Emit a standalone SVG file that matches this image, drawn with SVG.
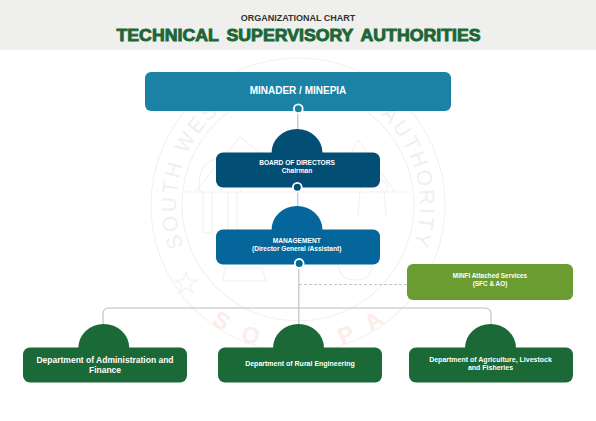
<svg xmlns="http://www.w3.org/2000/svg" width="596" height="421" viewBox="0 0 596 421">
<style>
text{font-family:"Liberation Sans",Arial,sans-serif;font-weight:700;text-anchor:middle;fill:#fff}
.sm{font-size:6.6px}
.ag{font-size:7px}
.dep{font-size:8.500px}
.ln{fill:none;stroke:#bcbcbc;stroke-width:1.1}
.wm{fill:none;stroke:#f3f1ee;stroke-width:1.1}
.wt{fill:#f1efec;font-size:21px;font-weight:400;letter-spacing:2.5px}
.wr{fill:#fcecea;font-size:23px;letter-spacing:18px}
.dot{stroke:#fff;stroke-width:1.8}
</style>
<defs>
<path id="arcT" d="M183.400 246.700A122 122 0 1 1 412.600 246.700"/>
<path id="arcB" d="M152 205A146 146 0 0 0 444 205"/>
</defs>
<rect width="596" height="421" fill="#fff"/>
<g id="watermark">
<circle class="wm" cx="298" cy="205" r="147"/>
<circle class="wm" cx="298" cy="205" r="116"/>
<text class="wt"><textPath href="#arcT" startOffset="0" style="text-anchor:start">SOUTH WEST</textPath></text>
<text class="wt"><textPath href="#arcT" startOffset="100%" style="text-anchor:end">T AUTHORITY</textPath></text>
<text class="wr"><textPath href="#arcB" startOffset="52%">SODEPA</textPath></text>
<path class="wm" d="M183 192H412M195 192L240 137L275 165M345 165L358 140L395 192"/>
<path class="wm" d="M200 192Q195 160 222 158Q250 165 240 192M203 192V233H212V192M228 192V233H237V192M360 192Q360 175 378 178Q392 185 385 192M360 192L358 215M384 192L386 215"/>
<path class="wm" d="M225 268H262L266 281H223ZM340 248Q365 250 372 268Q368 285 345 278Q332 265 340 248Z"/>
<path class="wm" d="M186 272L189 280H197L190 285L193 293L186 288L179 293L182 285L175 280H183Z"/>
</g>
<g id="header">
<rect width="596" height="50" fill="#eff0ed"/>
<text x="298" y="21" font-size="9" style="fill:#333">ORGANIZATIONAL CHART</text>
<text x="298.500" y="40.500" font-size="17" textLength="364" lengthAdjust="spacingAndGlyphs" word-spacing="3" stroke="#1d6636" stroke-width=".9" style="fill:#1d6636">TECHNICAL SUPERVISORY AUTHORITIES</text>
</g>
<g id="connectors">
<path class="ln" d="M297.800 112V230M298.800 264V325"/>
<path class="ln" d="M103 325V314Q103 308 109 308H485Q491 308 491 314V325"/>
<path d="M299 284.500H407" fill="none" stroke="#b5b5b5" stroke-width=".8" stroke-dasharray="3 2"/>
</g>
<g id="minader">
<rect x="145" y="72" width="306" height="39" rx="6" fill="#1b82a6"/>
<text x="298" y="94" font-size="10">MINADER / MINEPIA</text>
<circle class="dot" cx="298.300" cy="108.700" r="4.400" fill="#1b82a6"/>
</g>
<g id="board">
<path d="M271.500 153A25.500 24 0 0 1 322.500 153Z" fill="#024e75"/>
<rect x="216" y="152.500" width="164" height="35" rx="7" fill="#024e75"/>
<text class="sm" x="297" y="165">BOARD OF DIRECTORS</text>
<text class="sm" x="297" y="173">Chairman</text>
<circle class="dot" cx="297.300" cy="187.200" r="4.400" fill="#024e75"/>
</g>
<g id="management">
<path d="M271.500 230A25.500 24 0 0 1 322.500 230Z" fill="#04669b"/>
<rect x="216" y="229.500" width="164" height="35" rx="7" fill="#04669b"/>
<text class="sm" x="296.700" y="243">MANAGEMENT</text>
<text class="sm" x="296.700" y="251.300">(Director General /Assistant)</text>
<circle class="dot" cx="299.200" cy="263.400" r="4.400" fill="#04669b"/>
</g>
<g id="minfi">
<rect x="407" y="264" width="166" height="36" rx="6" fill="#6a9c32"/>
<text class="sm" x="490" y="277.500" style="font-size:6.400px">MINFI Attached Services</text>
<text class="sm" x="490" y="285.500" style="font-size:6.400px">(SFC &amp; AO)</text>
</g>
<g id="dept-admin">
<path d="M78.300 348A25.500 24 0 0 1 129.300 348Z" fill="#1a6936"/>
<rect x="23" y="347.500" width="164" height="35" rx="7" fill="#1a6936"/>
<text class="dep" x="105" y="363">Department of Administration and</text>
<text class="dep" x="105" y="373">Finance</text>
</g>
<g id="dept-rural">
<path d="M273 348A25.500 24 0 0 1 324 348Z" fill="#1a6936"/>
<rect x="218" y="347.500" width="164" height="35" rx="7" fill="#1a6936"/>
<text class="ag" x="300" y="365.500">Department of Rural Engineering</text>
</g>
<g id="dept-agri">
<path d="M465 348A25.500 24 0 0 1 516 348Z" fill="#1a6936"/>
<rect x="409" y="347.500" width="164" height="35" rx="7" fill="#1a6936"/>
<text class="ag" x="490.500" y="361.800">Department of Agriculture, Livestock</text>
<text class="ag" x="490.500" y="370">and Fisheries</text>
</g>
</svg>
